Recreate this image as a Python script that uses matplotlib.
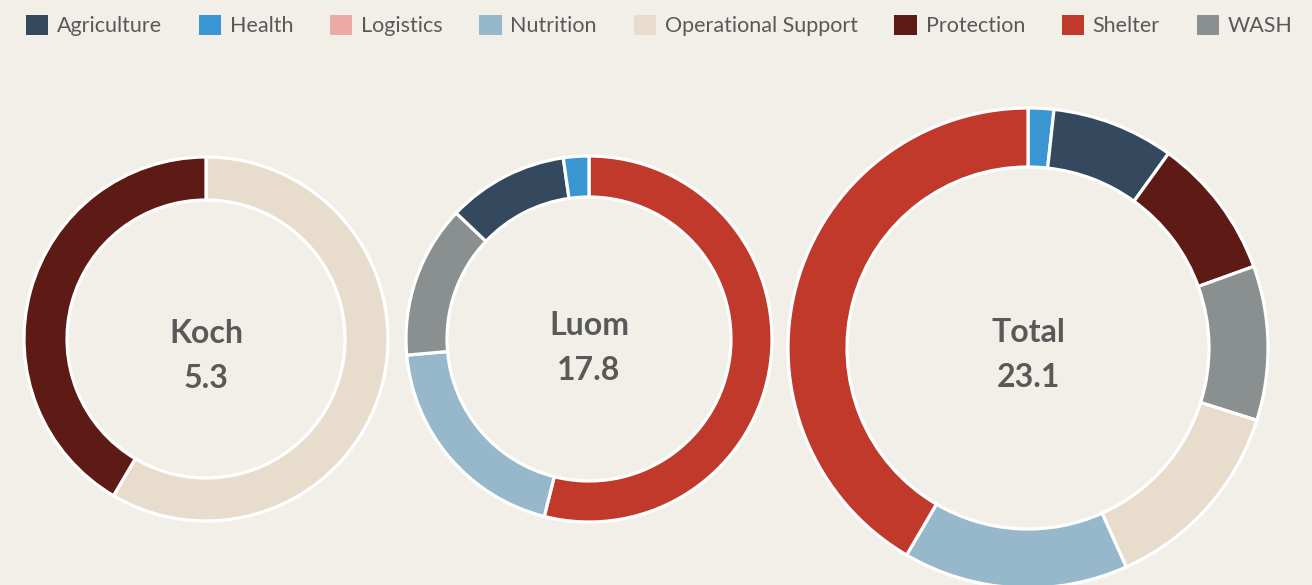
import matplotlib
matplotlib.use("Agg")
import matplotlib.pyplot as plt
from matplotlib.patches import Patch

plt.rcParams['font.family'] = ['Lato', 'DejaVu Sans']

# legend order and colours
sectors = ['Agriculture', 'Health', 'Logistics', 'Nutrition',
           'Operational Support', 'Protection', 'Shelter', 'WASH']
colors = {'Agriculture': '#34495e', 'Health': '#3a96d3', 'Logistics': '#ebaaa4',
          'Nutrition': '#97b8cb', 'Operational Support': '#e8dccd',
          'Protection': '#5e1a14', 'Shelter': '#c0392b', 'WASH': '#8a8f8f'}

# each donut: sectors (clockwise from 12 o'clock) and values
koch_sectors = ['Operational Support', 'Protection']
koch_values = [3.1, 2.2]
luom_sectors = ['Shelter', 'Nutrition', 'WASH', 'Agriculture', 'Health']
luom_values = [9.6, 3.5, 2.4, 1.9, 0.4]
total_sectors = ['Health', 'Agriculture', 'Protection', 'WASH',
                 'Operational Support', 'Nutrition', 'Shelter']
total_values = [0.4, 1.9, 2.2, 2.4, 3.1, 3.5, 9.6]

# name, label, sectors, values, centre, radius, ring width, label baseline offset
donuts = [
    ('Koch', '5.3', koch_sectors, koch_values, (206, 246), 182, 43, -4),
    ('Luom', '17.8', luom_sectors, luom_values, (589, 246), 183, 41, 4),
    ('Total', '23.1', total_sectors, total_values, (1028, 237), 240, 59, 6),
]

bg = '#f2efe8'
W, H = 1312, 585
fig = plt.figure(figsize=(W / 100, H / 100), dpi=100, facecolor=bg)
ax = fig.add_axes([0, 0, 1, 1])
ax.set_facecolor(bg)

for name, total, secs, vals, center, r, w, dy in donuts:
    ax.pie(vals, colors=[colors[s] for s in secs], startangle=90,
           counterclock=False, center=center, radius=r, frame=True,
           wedgeprops=dict(width=w, edgecolor='white', linewidth=2.3))
    ax.text(center[0], center[1] + dy, name, ha='center', va='baseline',
            fontsize=23, fontweight='bold', color='#595959')
    ax.text(center[0], center[1] + dy - 45, total, ha='center', va='baseline',
            fontsize=23, fontweight='bold', color='#595959')

ax.set_xlim(0, W)
ax.set_ylim(0, H)
ax.set_aspect('equal')
ax.axis('off')

handles = [Patch(facecolor=colors[s], edgecolor='none', label=s) for s in sectors]
fig.legend(handles=handles, loc='upper left', bbox_to_anchor=(0.008, 1.0),
           ncol=8, frameon=False, fontsize=15.5, labelcolor='#595959',
           handlelength=1.05, handleheight=1.05, handletextpad=0.4,
           columnspacing=1.7, borderaxespad=0.3)

fig.savefig('out.png', dpi=100, facecolor=bg)
